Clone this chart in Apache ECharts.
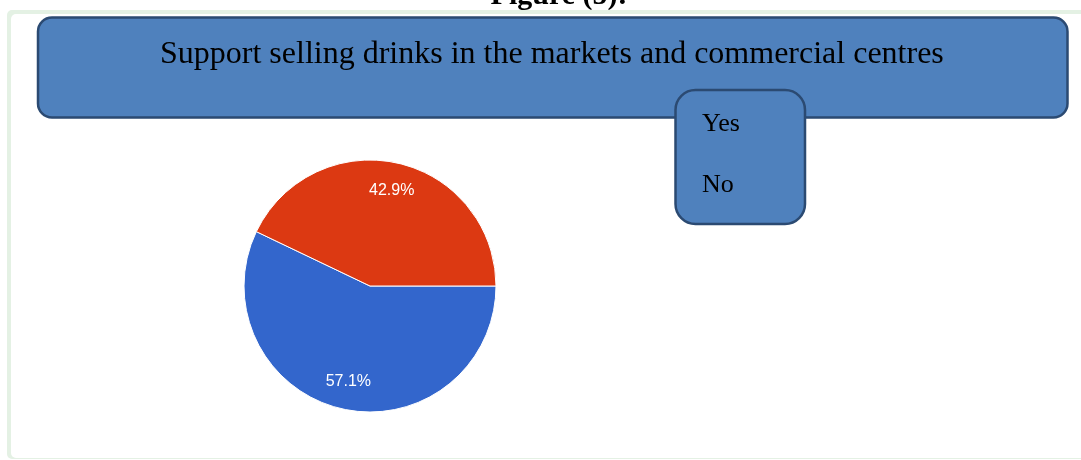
<!DOCTYPE html>
<html>
<head>
<meta charset="utf-8">
<title>Support selling drinks in the markets and commercial centres</title>
<script src="https://cdn.jsdelivr.net/npm/echarts@6/dist/echarts.min.js"></script>
<style>
  html, body { margin: 0; padding: 0; background: #ffffff; }
  #chart { width: 1081px; height: 460px; }
</style>
</head>
<body>
<div id="chart"></div>
<script>
// Survey answers and their shares (percent)
const categories = ['Yes', 'No'];
const shares = [57.1, 42.9];
const sliceColors = ['#3366cc', '#dc3912'];
const chartTitle = 'Support selling drinks in the markets and commercial centres';
const figureCaption = 'Figure (5):-';

const pieData = categories.map((name, i) => ({
  name: name,
  value: shares[i],
  itemStyle: { color: sliceColors[i] }
}));

const serif = '"Liberation Serif", "Times New Roman", serif';
const sans = '"Liberation Sans", Arial, sans-serif';
const boxFill = '#4f81bd';
const boxStroke = '#2b4a72';

const chart = echarts.init(document.getElementById('chart'), null, { renderer: 'canvas' });

chart.setOption({
  backgroundColor: '#ffffff',
  animation: false,
  title: {
    text: chartTitle,
    left: 160,
    top: 39,
    padding: 0,
    textStyle: {
      fontFamily: serif,
      fontSize: 32,
      fontWeight: 'normal',
      color: '#000000'
    },
    z: 6
  },
  legend: {
    orient: 'vertical',
    left: 696,
    top: 111,
    padding: 0,
    itemWidth: 0,
    itemHeight: 0,
    itemGap: 35,
    selectedMode: false,
    data: categories,
    textStyle: {
      fontFamily: serif,
      fontSize: 26,
      lineHeight: 26,
      color: '#000000'
    },
    z: 8
  },
  graphic: [
    // caption above the frame, clipped by the page top
    {
      type: 'text',
      z: 0,
      style: {
        x: 564, y: 11,
        text: figureCaption,
        font: 'bold 30px ' + serif,
        fill: '#000000',
        textAlign: 'center',
        textVerticalAlign: 'bottom'
      }
    },
    // light green frame with white panel
    {
      type: 'rect',
      z: 1,
      shape: { x: 7, y: 10, width: 1100, height: 449, r: 5 },
      style: { fill: '#e4f1e4' }
    },
    {
      type: 'rect',
      z: 2,
      shape: { x: 11, y: 14, width: 1100, height: 444, r: 5 },
      style: { fill: '#ffffff' }
    },
    // title box
    {
      type: 'rect',
      z: 3,
      shape: { x: 38, y: 17.5, width: 1029.5, height: 100, r: 14 },
      style: { fill: boxFill, stroke: boxStroke, lineWidth: 2.5 }
    },
    // legend box
    {
      type: 'rect',
      z: 5,
      shape: { x: 675.5, y: 90, width: 129.5, height: 134, r: 20 },
      style: { fill: boxFill, stroke: boxStroke, lineWidth: 2.5 }
    }
  ],
  series: [
    {
      type: 'pie',
      name: 'slices',
      center: [370, 286],
      radius: [0, 126],
      startAngle: 0,
      clockwise: true,
      silent: true,
      label: { show: false },
      labelLine: { show: false },
      itemStyle: { borderColor: '#ffffff', borderWidth: 1 },
      data: pieData,
      z: 4
    },
    {
      // ring used only to place the percentage labels at three quarters radius
      type: 'pie',
      name: 'labels',
      center: [370, 286],
      radius: [64, 126],
      startAngle: 0,
      clockwise: true,
      silent: true,
      itemStyle: { color: 'rgba(0,0,0,0)', borderWidth: 0 },
      label: {
        show: true,
        position: 'inside',
        formatter: (p) => '{pct|' + p.value.toFixed(1) + '%}',
        rich: {
          pct: {
            fontFamily: sans,
            fontSize: 16,
            color: '#ffffff'
          }
        }
      },
      labelLine: { show: false },
      data: categories.map((name, i) => ({ name: name, value: shares[i] })),
      z: 4
    }
  ]
});
</script>
</body>
</html>
